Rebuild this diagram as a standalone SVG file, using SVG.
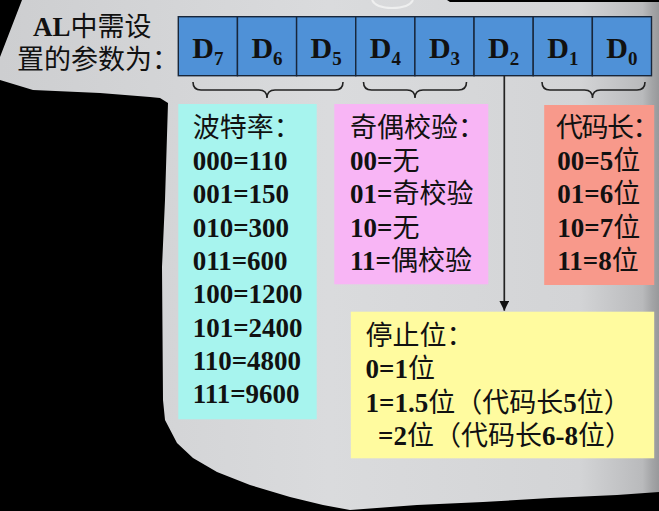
<svg xmlns="http://www.w3.org/2000/svg" width="659" height="511" viewBox="0 0 659 511">
<defs>
<linearGradient id="pg" gradientUnits="userSpaceOnUse" x1="0" y1="0" x2="659" y2="0">
<stop offset="0" stop-color="#cdced0"/>
<stop offset="0.5" stop-color="#dadbdd"/>
<stop offset="0.88" stop-color="#d3d4d6"/>
<stop offset="0.975" stop-color="#b9babc"/>
<stop offset="0.99" stop-color="#a3a4a6"/>
<stop offset="1" stop-color="#98999b"/>
</linearGradient>
<marker id="ah" markerWidth="10" markerHeight="10" refX="10" refY="5" orient="auto" markerUnits="userSpaceOnUse" viewBox="0 0 10 10">
<path d="M0,0 L10,5 L0,10 Z" fill="#111"/>
</marker>
</defs>
<style>
.t{font-family:"Liberation Serif","Noto Sans CJK SC",serif;font-size:27px;fill:#111}
.b{font-weight:bold}
.d{font-family:"Liberation Serif",serif;font-weight:bold;font-size:30px;fill:#111;text-anchor:middle}
.s{font-size:19px}
.cell{fill:#4f91d7;stroke:#18263a;stroke-width:1.4}
.br{fill:none;stroke:#222;stroke-width:1.6}
.cn{fill:none;stroke:#222;stroke-width:1.7}
</style>
<rect x="0" y="0" width="659" height="511" fill="#000"/>
<g id="page">
<path d="M22,0 L447,0 L450,2 L659,2 L659,492 L617,495 L550,498 L483,502 L417,505 L350,510 L323,505 L290,497 L250,485 L217,472 L193,458 L177,443 L165,420 L163,400 L162,267 L165,200 L168,103 L160,98 L150,97 L100,93 L33,90 L0,80 L0,57 Z" fill="url(#pg)"/>
<path d="M372,0 Q376,8 392,8 Q409,8 413,0" fill="none" stroke="#f4f4f4" stroke-width="2" opacity="0.8"/>
</g>
<g id="title">
<text class="t" x="33" y="36"><tspan class="b">AL</tspan>中需设</text>
<text class="t" x="17" y="69">置的参数为：</text>
</g>
<g id="register">
<rect class="cell" x="178.3" y="16.7" width="59.15" height="59"/>
<rect class="cell" x="237.45" y="16.7" width="59.15" height="59"/>
<rect class="cell" x="296.6" y="16.7" width="59.15" height="59"/>
<rect class="cell" x="355.75" y="16.7" width="59.15" height="59"/>
<rect class="cell" x="414.9" y="16.7" width="59.15" height="59"/>
<rect class="cell" x="474.05" y="16.7" width="59.15" height="59"/>
<rect class="cell" x="533.2" y="16.7" width="59.15" height="59"/>
<rect class="cell" x="592.35" y="16.7" width="59.15" height="59"/>
<text class="d" x="207.9" y="58.3">D<tspan class="s" dy="7">7</tspan></text>
<text class="d" x="267.0" y="58.3">D<tspan class="s" dy="7">6</tspan></text>
<text class="d" x="326.2" y="58.3">D<tspan class="s" dy="7">5</tspan></text>
<text class="d" x="385.3" y="58.3">D<tspan class="s" dy="7">4</tspan></text>
<text class="d" x="444.5" y="58.3">D<tspan class="s" dy="7">3</tspan></text>
<text class="d" x="503.6" y="58.3">D<tspan class="s" dy="7">2</tspan></text>
<text class="d" x="562.8" y="58.3">D<tspan class="s" dy="7">1</tspan></text>
<text class="d" x="621.9" y="58.3">D<tspan class="s" dy="7">0</tspan></text>
</g>
<g id="connectors">
<path class="br" d="M193,82 Q193,90 201,90 L259,90 Q267,90 267,98 Q267,90 275,90 L335,90 Q343,90 343,82"/>
<path class="br" d="M363.5,82 Q363.5,90 371.5,90 L407,90 Q415,90 415,98 Q415,90 423,90 L458.5,90 Q466.5,90 466.5,82"/>
<path class="br" d="M542,82 Q542,90 550,90 L584.5,90 Q592.5,90 592.5,98 Q592.5,90 600.5,90 L637,90 Q645,90 645,82"/>
<line class="cn" x1="504.3" y1="75.7" x2="504.3" y2="310.7" marker-end="url(#ah)"/>
</g>
<g id="baud">
<rect x="178.3" y="104" width="138.4" height="315.3" fill="#a7f4ee"/>
<text class="t" x="192.7" y="137">波特率：</text>
<text class="t b" x="192.7" y="170">000=110</text>
<text class="t b" x="192.7" y="203.3">001=150</text>
<text class="t b" x="192.7" y="236.6">010=300</text>
<text class="t b" x="192.7" y="269.9">011=600</text>
<text class="t b" x="192.7" y="303.2">100=1200</text>
<text class="t b" x="192.7" y="336.5">101=2400</text>
<text class="t b" x="192.7" y="369.8">110=4800</text>
<text class="t b" x="192.7" y="403.1">111=9600</text>
</g>
<g id="parity">
<rect x="334.3" y="104" width="154" height="180.3" fill="#f8b5f5"/>
<text class="t" x="350" y="137">奇偶校验：</text>
<text class="t" x="350" y="170"><tspan class="b">00=</tspan>无</text>
<text class="t" x="350" y="203.3"><tspan class="b">01=</tspan>奇校验</text>
<text class="t" x="350" y="236.6"><tspan class="b">10=</tspan>无</text>
<text class="t" x="350" y="269.9"><tspan class="b">11=</tspan>偶校验</text>
</g>
<g id="length">
<rect x="544.2" y="105" width="110" height="180" fill="#f8998b"/>
<text class="t" x="556" y="137" letter-spacing="-1.5">代码长：</text>
<text class="t" x="557.3" y="170"><tspan class="b">00=5</tspan>位</text>
<text class="t" x="557.3" y="203.3"><tspan class="b">01=6</tspan>位</text>
<text class="t" x="557.3" y="236.6"><tspan class="b">10=7</tspan>位</text>
<text class="t" x="557.3" y="269.9"><tspan class="b">11=8</tspan>位</text>
</g>
<g id="stop">
<rect x="350.8" y="311.7" width="303.4" height="146.6" fill="#fffb9f"/>
<text class="t" x="365.5" y="345">停止位：</text>
<text class="t" x="365.5" y="378"><tspan class="b">0=1</tspan>位</text>
<text class="t" x="365.5" y="411.5"><tspan class="b">1=1.5</tspan>位（代码长<tspan class="b">5</tspan>位）</text>
<text class="t" x="378" y="445"><tspan class="b">=2</tspan>位（代码长<tspan class="b">6-8</tspan>位）</text>
</g>
</svg>
